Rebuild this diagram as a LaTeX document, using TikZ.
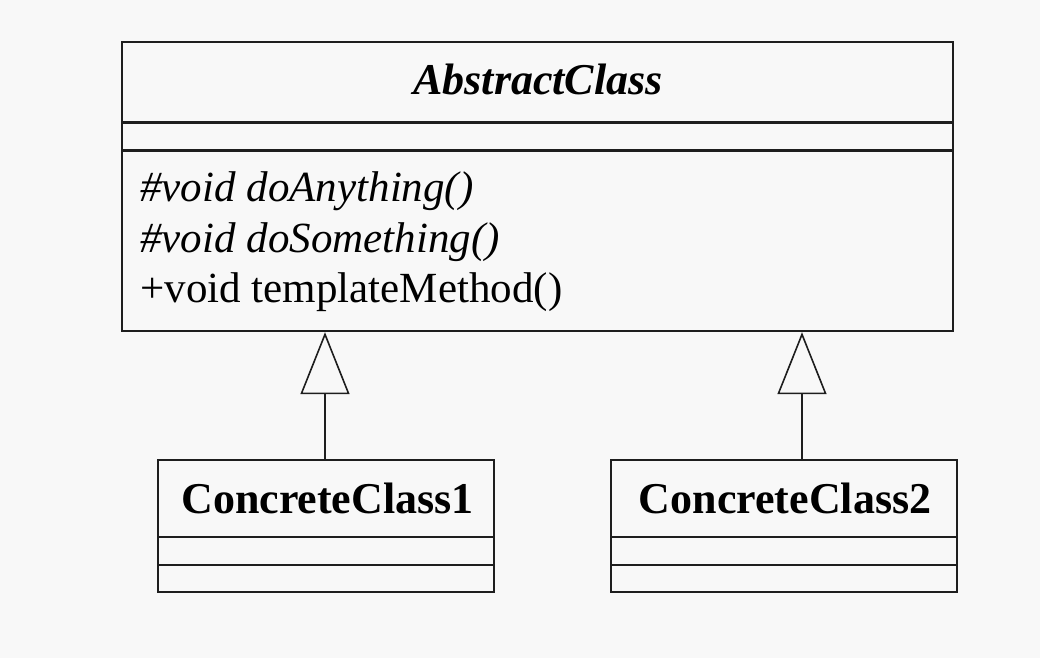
\documentclass[tikz,border=0pt]{standalone}
\usepackage{fontspec}
\setmainfont{Liberation Serif}
\usetikzlibrary{arrows.meta}
\definecolor{bgc}{RGB}{248,248,248}
\definecolor{ink}{RGB}{30,30,30}
\tikzset{
  classbox/.style={draw=ink, line width=1.2pt, inner sep=0pt},
  sepline/.style={draw=ink, line width=1.2pt},
  methodtxt/.style={anchor=base west, inner sep=0pt, font=\fontsize{21.5pt}{26pt}\selectfont},
  nametxt/.style={anchor=base, inner sep=0pt, font=\fontsize{22pt}{26pt}\selectfont\bfseries},
  inherit/.style={draw=ink, line width=0.8pt, -{Triangle[open, length=31pt, width=24.5pt, line width=0.8pt]}}
}
\begin{document}
\begin{tikzpicture}[x=0.5pt, y=-0.5pt]
\fill[bgc] (0,0) rectangle (1040,658);
\useasboundingbox (0,0) rectangle (1040,658);
% abstract class
\node[classbox, minimum width=415.5pt, minimum height=144.5pt] (abs) at (537.5,186.5) {};
\draw[sepline] (122,122.5) -- (953,122.5);
\draw[sepline] (122,150.5) -- (953,150.5);
\node[nametxt, font=\fontsize{22pt}{26pt}\selectfont\bfseries\itshape] (absname) at (538,95) {AbstractClass};
\node[methodtxt, font=\fontsize{21.5pt}{26pt}\selectfont\itshape] (m1) at (140,202) {\#void doAnything()};
\node[methodtxt, font=\fontsize{21.5pt}{26pt}\selectfont\itshape] (m2) at (140,252) {\#void doSomething()};
\node[methodtxt] (m3) at (140,302) {+void templateMethod()};
% concrete class 1
\node[classbox, minimum width=168pt, minimum height=66pt] (c1) at (326,526) {};
\draw[sepline] (158,537) -- (494,537);
\draw[sepline] (158,565) -- (494,565);
\node[nametxt] (c1name) at (327.5,513) {ConcreteClass1};
% concrete class 2
\node[classbox, minimum width=173pt, minimum height=66pt] (c2) at (784,526) {};
\draw[sepline] (611,537) -- (957,537);
\draw[sepline] (611,565) -- (957,565);
\node[nametxt] (c2name) at (785,513) {ConcreteClass2};
% inheritance
\coordinate (c1top) at (325,460);
\coordinate (c2top) at (802,460);
\draw[inherit] (c1top) -- (c1top |- abs.south);
\draw[inherit] (c2top) -- (c2top |- abs.south);
\end{tikzpicture}
\end{document}
